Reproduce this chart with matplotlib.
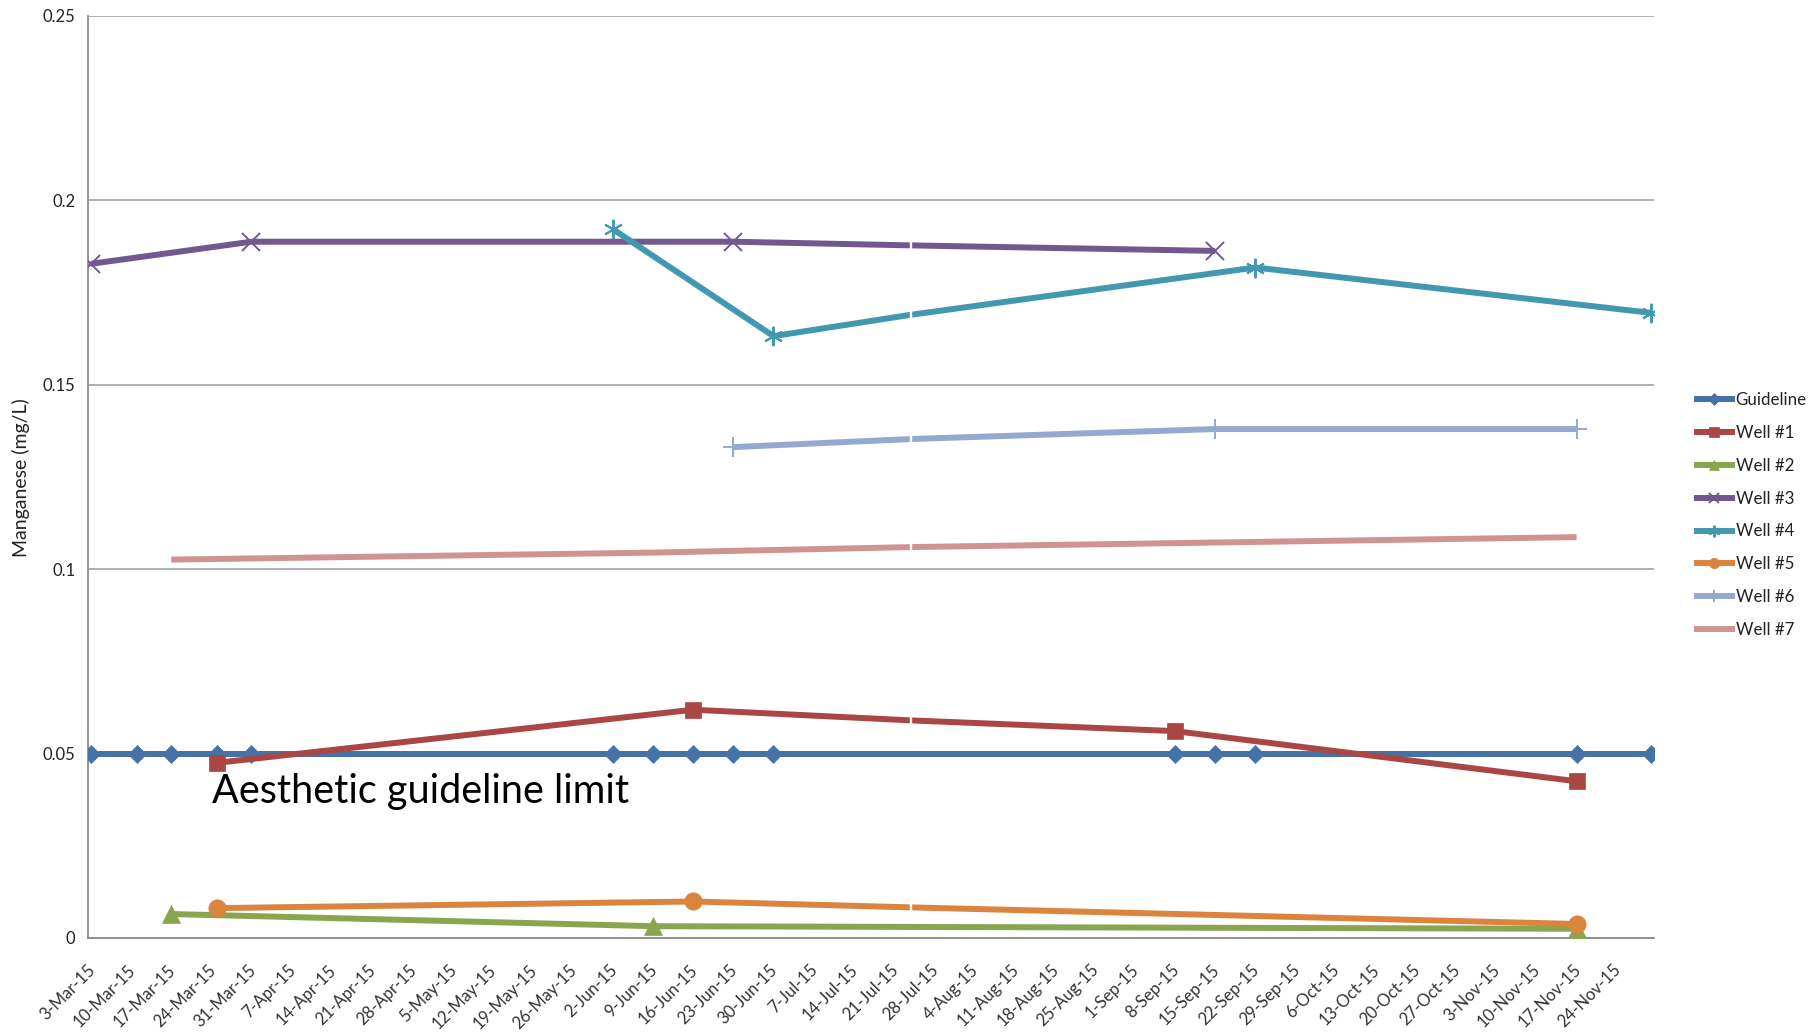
import numpy as np
import matplotlib
matplotlib.use('Agg')
import matplotlib.pyplot as plt
import matplotlib.dates as mdates
import matplotlib.transforms as mtransforms

plt.rcParams['font.family'] = ['Lato', 'DejaVu Sans']

# ── sample data (mg/L) ──
guide_dates = ['2015-03-03', '2015-03-11', '2015-03-17', '2015-03-25', '2015-03-31',
               '2015-06-02', '2015-06-09', '2015-06-16', '2015-06-23', '2015-06-30',
               '2015-09-08', '2015-09-15', '2015-09-22', '2015-11-17', '2015-11-30']
guide_vals = [0.05] * len(guide_dates)

well1_dates = ['2015-03-25', '2015-06-16', '2015-07-24', '2015-09-08', '2015-11-17']
well1_vals = [0.0475, 0.0619, 0.0590, 0.0561, 0.0425]
well2_dates = ['2015-03-17', '2015-06-09', '2015-11-17']
well2_vals = [0.0065, 0.0032, 0.0025]
well3_dates = ['2015-03-03', '2015-03-31', '2015-06-23', '2015-07-24', '2015-09-15']
well3_vals = [0.1828, 0.1888, 0.1888, 0.1878, 0.1863]
well4_dates = ['2015-06-02', '2015-06-30', '2015-07-24', '2015-09-22', '2015-11-30']
well4_vals = [0.1922, 0.1632, 0.1690, 0.1818, 0.1695]
well5_dates = ['2015-03-25', '2015-06-16', '2015-07-24', '2015-11-17']
well5_vals = [0.0081, 0.0099, 0.0083, 0.0038]
well6_dates = ['2015-06-23', '2015-07-24', '2015-09-15', '2015-11-17']
well6_vals = [0.1331, 0.1353, 0.1380, 0.1380]
well7_dates = ['2015-03-17', '2015-06-09', '2015-07-24', '2015-11-17']
well7_vals = [0.1026, 0.1045, 0.1060, 0.1087]

# unmarked sample date (no symbol drawn, just a small white notch on the line)
BLANK_DAY = np.datetime64('2015-07-24')

# name, dates, values, colour, marker, marker size, notch size
series = [
    ('Guideline', guide_dates, guide_vals, '#4572A7', 'D', 9.5, 0),
    ('Well #1', well1_dates, well1_vals, '#AA4643', 's', 12, 7),
    ('Well #2', well2_dates, well2_vals, '#89A54E', '^', 13, 0),
    ('Well #3', well3_dates, well3_vals, '#71588F', 'x', 13, 7),
    ('Well #4', well4_dates, well4_vals, '#4198AF', (6, 2, 0), 14, 13),
    ('Well #5', well5_dates, well5_vals, '#DB843D', 'o', 12.5, 7),
    ('Well #6', well6_dates, well6_vals, '#93A9CF', '+', 15, 7),
    ('Well #7', well7_dates, well7_vals, '#D19392', None, 0, 7),
]

W, H = 1810, 1034
fig = plt.figure(figsize=(W / 100, H / 100), dpi=100)
ax = fig.add_axes([88 / W, (H - 938) / H, 1566 / W, 922 / H])

handles = []
for i, (name, dts, vals, col, mk, ms, notch) in enumerate(series):
    x = np.array(dts, dtype='datetime64[D]')
    y = np.array(vals)
    keep = [k for k in range(len(x)) if x[k] != BLANK_DAY]
    thin = mk in ('x', '+', (6, 2, 0))
    ln, = ax.plot(x, y, '-', color=col, lw=4.3, solid_capstyle='butt',
                  marker=mk, markevery=keep, ms=ms,
                  mfc=col, mec=col, mew=1.4 if thin else 0.5,
                  zorder=3 + i, label=name)
    handles.append(ln)
    if notch:
        b = x == BLANK_DAY
        ax.plot(x[b], y[b], linestyle='none', marker='|', ms=notch, mew=1.7,
                color='white', zorder=3 + i)

# ── axes ──
ax.set_ylim(0, 0.25)
ax.set_yticks([0, 0.05, 0.1, 0.15, 0.2, 0.25])
ax.set_yticklabels(['0', '0.05', '0.1', '0.15', '0.2', '0.25'])
ax.yaxis.grid(True, color='#9a9a9a', lw=1.1, zorder=0)
ax.set_axisbelow(True)

x0 = np.datetime64('2015-03-03')
x1 = np.datetime64('2015-11-30')
ax.set_xlim(mdates.date2num(x0) - 0.5, mdates.date2num(x1) + 0.5)
ticks = np.arange(x0, np.datetime64('2015-11-25'), np.timedelta64(7, 'D'))
ax.set_xticks(mdates.date2num(ticks))
ax.set_xticklabels([f"{t.astype(object).day}-{t.astype(object).strftime('%b')}-15" for t in ticks])

for s in ('top', 'right'):
    ax.spines[s].set_visible(False)
for s in ('left', 'bottom'):
    ax.spines[s].set_color('#8c8c8c')
    ax.spines[s].set_linewidth(1.3)

ax.tick_params(axis='y', length=0, pad=9, labelsize=12, labelcolor='#222222')
ax.tick_params(axis='x', length=0, pad=17, labelsize=12, labelcolor='#333333')
shift = mtransforms.ScaledTranslation(-4 / 100, 0, fig.dpi_scale_trans)
for lab in ax.get_xticklabels():
    lab.set_rotation(45)
    lab.set_ha('right')
    lab.set_va('top')
    lab.set_rotation_mode('anchor')
    lab.set_transform(lab.get_transform() + shift)

fig.text(21 / W, 1 - 478 / H, 'Manganese (mg/L)', rotation=90,
         ha='center', va='center', fontsize=14, color='#222222')

ax.text((212 - 88) / 1566, (938 - 803) / 922, 'Aesthetic guideline limit',
        transform=ax.transAxes, fontsize=28.5, color='black', va='baseline', ha='left')

leg = fig.legend(handles=handles, loc='center left',
                 bbox_to_anchor=(1694 / W, 1 - 515 / H), frameon=False,
                 fontsize=12.2, handlelength=2.4, handletextpad=0.05,
                 labelspacing=1.0, borderpad=0, borderaxespad=0, markerscale=0.6)
for t in leg.get_texts():
    t.set_color('#222222')

fig.savefig('out.png', dpi=100)
